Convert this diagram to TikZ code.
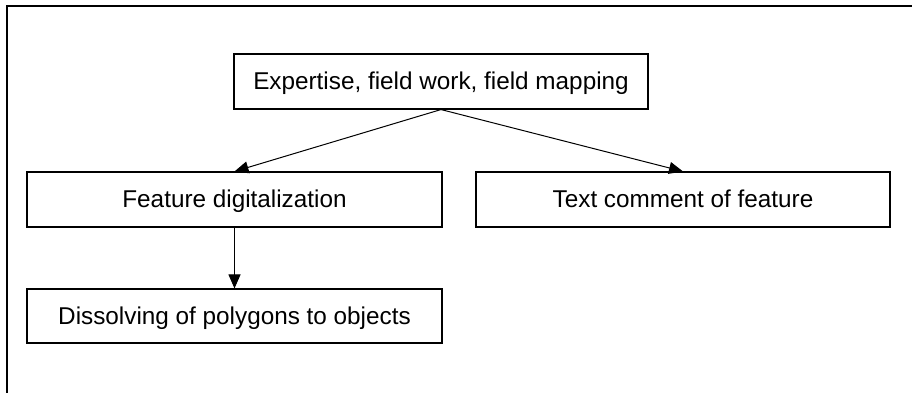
\documentclass[tikz,border=0pt]{standalone}
\usepackage{fontspec}
\setmainfont{Liberation Sans}
\usetikzlibrary{arrows.meta}
\begin{document}
\begin{tikzpicture}[x=1pt,y=-1pt,
  box/.style={draw=black,line width=1.1pt,rectangle,inner sep=0pt,
    text height=18pt,text depth=2pt,
    font=\fontsize{24.3}{28}\selectfont},
  arr/.style={line width=1pt,-{Triangle[length=14pt,width=12pt]}}]
\useasboundingbox[fill=white] (0,0) rectangle (912,393);
\coordinate (fa) at (7,393);
\coordinate (fb) at (7,6);
\coordinate (fc) at (912,6);
\draw[line width=1.5pt] (fa) -- (fb) -- (fc);
\node[box,minimum width=414pt,minimum height=55pt] (top) at (441,81.5) {Expertise, field work, field mapping};
\node[box,minimum width=415pt,minimum height=55pt] (fd) at (234.5,199.5) {Feature digitalization};
\node[box,minimum width=414pt,minimum height=55pt] (tc) at (683,199.5) {Text comment of feature};
\node[box,minimum width=415pt,minimum height=54pt] (ds) at (234.5,316) {Dissolving of polygons to objects};
\draw[arr] (top.south) -- (fd.north);
\draw[arr] (top.south) -- (tc.north);
\draw[arr] (fd.south) -- (ds.north);
\end{tikzpicture}
\end{document}
